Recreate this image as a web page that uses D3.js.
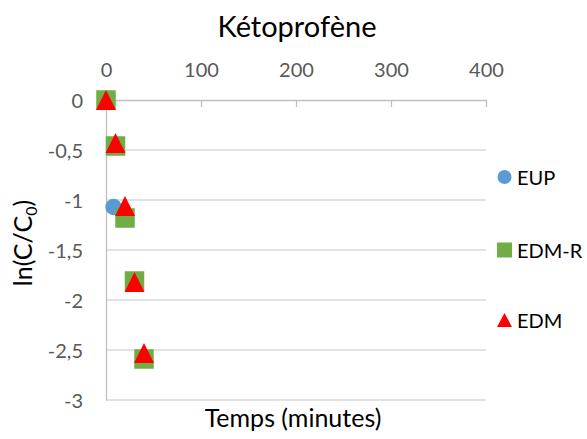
<!DOCTYPE html>
<html><head><meta charset="utf-8">
<script src="https://cdn.jsdelivr.net/npm/d3@7"></script>
<style>
html,body{margin:0;padding:0;background:#fff;}
svg{display:block;font-family:Lato, "Open Sans", sans-serif;}
</style></head>
<body><svg id="chart" width="587" height="439"></svg>
<script>
// ---- data ----
const chartTitle = "Kétoprofène";
const xTitle = "Temps (minutes)";
const seriesNames = ["EUP", "EDM-R", "EDM"];
const eupTime = [0, 8];
const eupValues = [0, -1.07];
const edmrTime = [0, 10, 20, 30, 40];
const edmrValues = [0, -0.46, -1.18, -1.81, -2.59];
const edmTime = [0, 10, 20, 30, 40];
const edmValues = [0, -0.43, -1.06, -1.82, -2.53];
const xTicks = [0, 100, 200, 300, 400];
const yTicks = [0, -0.5, -1, -1.5, -2, -2.5, -3];
const yTickLabels = ["0", "-0,5", "-1", "-1,5", "-2", "-2,5", "-3"];

const colors = {EUP: "#5B9BD5", "EDM-R": "#70AD47", EDM: "#FF0000"};

const svg = d3.select("#chart");
const x = d3.scaleLinear().domain([0, 400]).range([106, 486]);
const y = d3.scaleLinear().domain([-3, 0]).range([400, 100]);

// gridlines
svg.append("g").selectAll("line").data(yTicks.filter(d => d !== 0)).join("line")
  .attr("x1", x(0)).attr("x2", x(400))
  .attr("y1", d => y(d)).attr("y2", d => y(d))
  .attr("stroke", "#d9d9d9").attr("stroke-width", 1.3);

// y axis
const yAxis = svg.append("g").attr("transform", `translate(${x(0)},0)`)
  .call(d3.axisLeft(y).tickValues(yTicks).tickSize(0).tickPadding(23)
        .tickFormat((d, i) => yTickLabels[i]));
yAxis.select(".domain").attr("stroke", "#bfbfbf").attr("stroke-width", 1.3);
yAxis.selectAll("text").attr("fill", "#595959").attr("font-size", 20)
  .attr("font-family", "Lato, sans-serif").attr("dy", "0.36em");

// x axis at top (y = 0)
const xAxis = svg.append("g").attr("transform", `translate(0,${y(0)})`)
  .call(d3.axisTop(x).tickValues(xTicks).tickSizeInner(-7).tickSizeOuter(0).tickPadding(23));
xAxis.select(".domain").attr("stroke", "#bfbfbf").attr("stroke-width", 1.3);
xAxis.selectAll(".tick line").attr("stroke", "#bfbfbf").attr("stroke-width", 1.3);
xAxis.selectAll("text").attr("fill", "#595959").attr("font-size", 20)
  .attr("font-family", "Lato, sans-serif");

// titles
svg.append("text").attr("x", 297).attr("y", 37).attr("text-anchor", "middle")
  .attr("font-size", 29).attr("fill", "#000").text(chartTitle);
svg.append("text").attr("x", 293).attr("y", 427).attr("text-anchor", "middle")
  .attr("font-size", 25).attr("fill", "#000").text(xTitle);
const yt = svg.append("text").attr("transform", "translate(32,243) rotate(-90)")
  .attr("text-anchor", "middle").attr("font-size", 25).attr("fill", "#000");
yt.append("tspan").text("ln(C/C");
yt.append("tspan").attr("font-size", 16).attr("dy", 5).text("0");
yt.append("tspan").attr("dy", -5).text(")");

// markers
const pts = svg.append("g");
pts.selectAll("circle.eup").data(eupTime.map((t, i) => [t, eupValues[i]])).join("circle")
  .attr("cx", d => x(d[0])).attr("cy", d => y(d[1])).attr("r", 8.3)
  .attr("fill", colors.EUP);
const sq = 19.5;
pts.selectAll("rect.edmr").data(edmrTime.map((t, i) => [t, edmrValues[i]])).join("rect")
  .attr("x", d => x(d[0]) - sq / 2).attr("y", d => y(d[1]) - sq / 2)
  .attr("width", sq).attr("height", sq).attr("fill", colors["EDM-R"]);
const tri = (cx, cy, w, h) => `M${cx},${cy - h / 2}L${cx + w / 2},${cy + h / 2}L${cx - w / 2},${cy + h / 2}Z`;
pts.selectAll("path.edm").data(edmTime.map((t, i) => [t, edmValues[i]])).join("path")
  .attr("d", d => tri(x(d[0]), y(d[1]), 20, 20)).attr("fill", colors.EDM);

// legend
const leg = svg.append("g");
const legY = [177, 250, 320];
leg.append("circle").attr("cx", 504.5).attr("cy", legY[0]).attr("r", 7).attr("fill", colors.EUP);
leg.append("rect").attr("x", 497).attr("y", legY[1] - 7.5).attr("width", 15).attr("height", 15).attr("fill", colors["EDM-R"]);
leg.append("path").attr("d", tri(504.5, legY[2], 15, 14)).attr("fill", colors.EDM);
leg.selectAll("text").data(seriesNames).join("text")
  .attr("x", 517).attr("y", (d, i) => legY[i] + 8)
  .attr("font-size", 20).attr("fill", "#000").text(d => d);
</script></body></html>
